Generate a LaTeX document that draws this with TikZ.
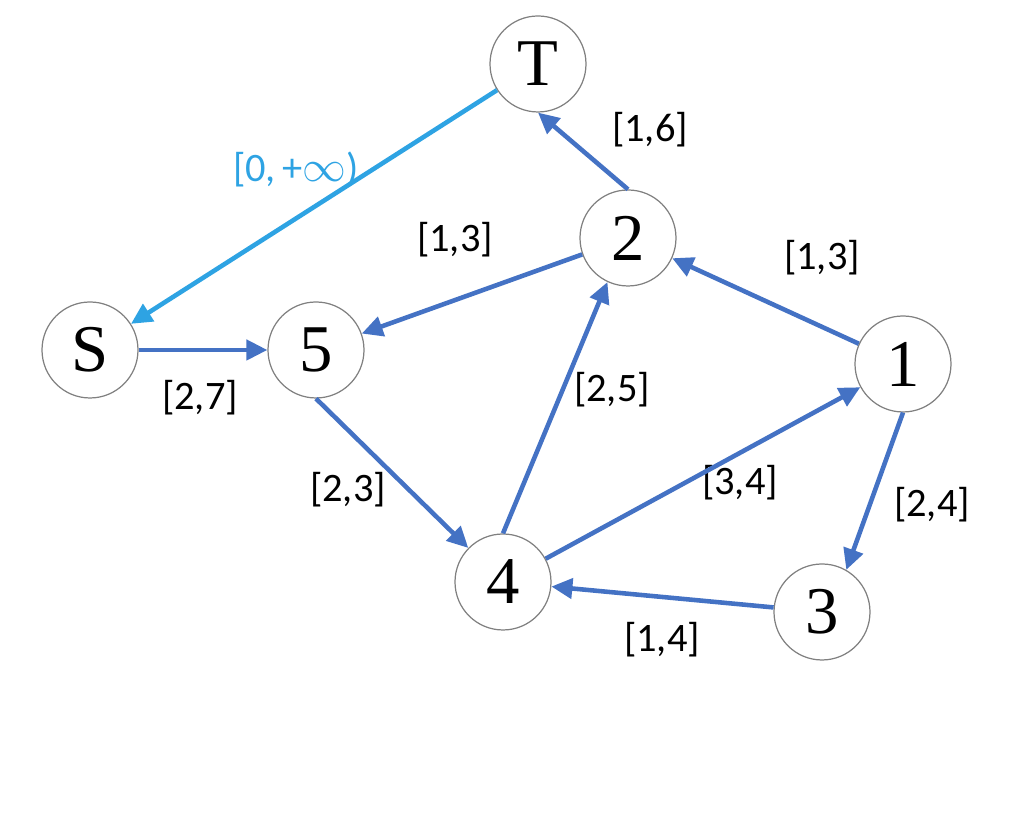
\documentclass[tikz,border=0pt]{standalone}
\usepackage{fontspec}
\newfontfamily\labelfont{Carlito}
\newfontfamily\vertexfont{Liberation Serif}
\usepackage{tikz}
\usetikzlibrary{arrows.meta, positioning}

\definecolor{edgeblue}{HTML}{4472C4}
\definecolor{skyblue}{HTML}{2EA3E3}

\tikzset{
	vertex/.style = {draw = gray, line width = 0.7pt, shape = circle, minimum size = 1.92cm, inner sep = 0pt, font = \vertexfont\fontsize{38}{44}\selectfont},
	flow/.style = {color = edgeblue, line width = 2.6pt, every edge/.append style = {-{Triangle[length = 0.42cm, width = 0.4cm]}}},
	wt/.style = {font = \labelfont\fontsize{23}{27}\selectfont}
}

\begin{document}
\begin{tikzpicture}
	\useasboundingbox (0, 0) rectangle (20.48, 16.58);

	\node[vertex] (t) at (10.76, 15.30) {T};
	\node[vertex] (v2) at (12.56, 11.82) {2};
	\node[vertex] (s) at (1.80, 9.58) {S};
	\node[vertex] (v5) at (6.32, 9.58) {5};
	\node[vertex] (v1) at (18.06, 9.30) {1};
	\node[vertex] (v4) at (10.06, 4.94) {4};
	\node[vertex] (v3) at (16.44, 4.34) {3};

	\node[wt, text = skyblue] (wts) at (5.92, 13.18) {[0,\,+$\infty$)};
	\node[wt] (w2t) at (13.0, 13.98) {[1,6]};
	\node[wt] (w25) at (9.10, 11.78) {[1,3]};
	\node[wt] (w12) at (16.44, 11.42) {[1,3]};
	\node[wt] (ws5) at (4.0, 8.62) {[2,7]};
	\node[wt] (w42) at (12.24, 8.78) {[2,5]};
	\node[wt] (w54) at (6.96, 6.78) {[2,3]};
	\node[wt] (w41) at (14.8, 6.92) {[3,4]};
	\node[wt] (w13) at (18.64, 6.48) {[2,4]};
	\node[wt] (w34) at (13.24, 3.78) {[1,4]};

	\path[flow, color = skyblue]
	(t) edge (s);

	\path[flow]
	(v2.north) edge (t.south)
	(v1) edge (v2)
	(v2) edge (v5)
	(s) edge (v5)
	(v5.south) edge (v4)
	(v4.north) edge (v2.245)
	(v4) edge (v1)
	(v1.south) edge (v3.60)
	(v3) edge (v4);

\end{tikzpicture}
\end{document}
